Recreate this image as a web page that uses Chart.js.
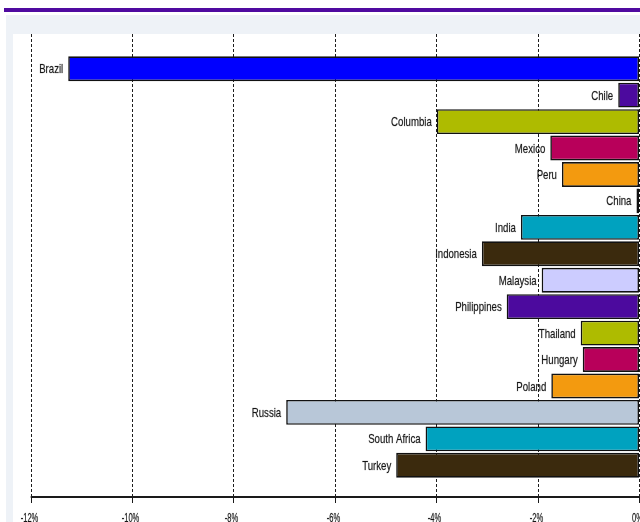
<!DOCTYPE html>
<html>
<head>
<meta charset="utf-8">
<script src="https://cdn.jsdelivr.net/npm/chart.js@4/dist/chart.umd.min.js"></script>
<style>
  html, body { margin: 0; padding: 0; background: #fff; overflow: hidden; }
  #frame { position: relative; width: 640px; height: 522px; overflow: hidden; }
  #topline { position: absolute; left: 4px; top: 8px; width: 636px; height: 4px; background: #500aa0; }
  #panel { position: absolute; left: 6px; top: 15px; width: 634px; height: 507px; background: #eef2f7; }
  #plot { position: absolute; left: 13px; top: 34px; width: 627px; height: 488px; background: #fff; }
  #chart { position: absolute; left: 0; top: 0; }
</style>
</head>
<body>
<div id="frame">
  <div id="topline"></div>
  <div id="panel"></div>
  <div id="plot"></div>
  <canvas id="chart" width="680" height="560"></canvas>
</div>
<script>
"use strict";

const countries = ['Brazil', 'Chile', 'Columbia', 'Mexico', 'Peru', 'China', 'India', 'Indonesia',
  'Malaysia', 'Philippines', 'Thailand', 'Hungary', 'Poland', 'Russia', 'South Africa', 'Turkey'];
const changes = [-11.26, -0.41, -3.99, -1.75, -1.52, -0.05, -2.33, -3.10,
  -1.92, -2.61, -1.15, -1.11, -1.73, -6.96, -4.21, -4.79];
const barColors = ['#0000ff', '#4c0a9e', '#aebb00', '#b8005a', '#f39a0f', '#b8c7d8', '#00a2bf', '#3b2a0d',
  '#ccccff', '#4c0a9e', '#aebb00', '#b8005a', '#f39a0f', '#b8c7d8', '#00a2bf', '#3b2a0d'];
const tickValues = [-12, -10, -8, -6, -4, -2, 0];

const AXIS_TOP = 34;
const AXIS_Y = 497;

// squeezed text, the labels use a narrow face
function narrowText(ctx, text, x, y, size, squeeze, align, baseline) {
  ctx.save();
  ctx.font = size + 'px "Liberation Sans", Arial, sans-serif';
  ctx.textAlign = align;
  ctx.textBaseline = baseline;
  ctx.fillStyle = '#161616';
  ctx.strokeStyle = 'rgba(22,22,22,0.35)';
  ctx.lineWidth = 0.6;
  ctx.translate(x, y);
  ctx.scale(squeeze, 1);
  ctx.fillText(text, 0, 0);
  ctx.strokeText(text, 0, 0);
  ctx.restore();
}

const frameLines = {
  id: 'frameLines',
  beforeDatasetsDraw(chart) {
    const ctx = chart.ctx;
    const xs = chart.scales.x;
    ctx.save();
    ctx.strokeStyle = '#1e1e1e';
    ctx.lineWidth = 1;
    ctx.setLineDash([3, 2]);
    tickValues.forEach(v => {
      const px = Math.round(xs.getPixelForValue(v)) + 0.5;
      ctx.beginPath();
      ctx.moveTo(px, AXIS_TOP);
      ctx.lineTo(px, AXIS_Y);
      ctx.stroke();
    });
    ctx.restore();
  },
  afterDatasetsDraw(chart) {
    const ctx = chart.ctx;
    const xs = chart.scales.x;
    ctx.save();
    // bottom axis with tick marks
    ctx.strokeStyle = '#1a1a1a';
    ctx.lineWidth = 2;
    ctx.beginPath();
    ctx.moveTo(xs.getPixelForValue(-12), AXIS_Y);
    ctx.lineTo(xs.getPixelForValue(0) + 3, AXIS_Y);
    ctx.stroke();
    ctx.lineWidth = 1;
    tickValues.forEach(v => {
      const px = Math.round(xs.getPixelForValue(v)) + 0.5;
      ctx.beginPath();
      ctx.moveTo(px, AXIS_Y);
      ctx.lineTo(px, AXIS_Y + 6);
      ctx.stroke();
      narrowText(ctx, v + '%', px - 2, AXIS_Y + 15, 13, 0.58, 'center', 'top');
    });

    // country names sit just left of each bar end
    const meta = chart.getDatasetMeta(0);
    meta.data.forEach((bar, i) => {
      narrowText(ctx, countries[i], bar.x - 5, bar.y + 1, 13, 0.74, 'right', 'middle');
    });
    ctx.restore();
  }
};

new Chart(document.getElementById('chart'), {
  type: 'bar',
  data: {
    labels: countries,
    datasets: [{
      data: changes,
      backgroundColor: barColors,
      borderColor: '#111',
      borderWidth: 1.6,
      borderSkipped: false,
      categoryPercentage: 1,
      barPercentage: 0.94
    }]
  },
  options: {
    indexAxis: 'y',
    responsive: false,
    animation: false,
    devicePixelRatio: 1,
    layout: {
      padding: { left: 30.7, right: 41, top: 55.5, bottom: 81.5 }
    },
    scales: {
      x: { type: 'linear', min: -12, max: 0, display: false },
      y: { display: false }
    },
    plugins: {
      legend: { display: false },
      tooltip: { enabled: false }
    }
  },
  plugins: [frameLines]
});
</script>
</body>
</html>
